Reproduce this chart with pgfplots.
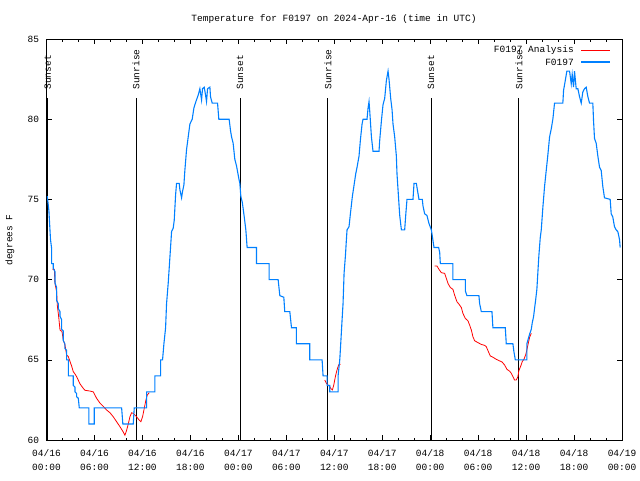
\documentclass[border=0pt]{standalone}
\usepackage{fontspec}
\setmainfont{Liberation Mono}
\usepackage{pgfplots}
\pgfplotsset{compat=1.18}
\definecolor{gblue}{RGB}{0,128,255}
\definecolor{gred}{RGB}{255,0,0}
\begin{document}
\fontsize{9.5}{11}\selectfont
\begin{tikzpicture}
\path[use as bounding box] (0pt,0pt) rectangle (640pt,480pt);
\begin{axis}[
  at={(46.5pt,40pt)}, anchor=south west,
  scale only axis, width=575.5pt, height=401pt,
  xmin=0, xmax=72, ymin=60, ymax=85,
  xtick={0,6,...,72},
  minor x tick num=2,
  xticklabels={{04/16\\00:00},{04/16\\06:00},{04/16\\12:00},{04/16\\18:00},{04/17\\00:00},{04/17\\06:00},{04/17\\12:00},{04/17\\18:00},{04/18\\00:00},{04/18\\06:00},{04/18\\12:00},{04/18\\18:00},{04/19\\00:00}},
  xticklabel style={align=center, font=\fontsize{9.5}{14}\selectfont, yshift=-6.5pt},
  ytick={60,65,...,85},
  yticklabel style={font=\fontsize{9.5}{11}\selectfont, xshift=-4pt},
  /pgf/number format/assume math mode=true,
  tick align=inside,
  major tick length=5pt, minor tick length=2.5pt,
  tick style={black, line width=0.6pt},
  axis line style={black, line width=0.8pt},
  clip=false,
]
% sunrise / sunset lines
\addplot[black, line width=0.8pt] coordinates {(0.15,60) (0.15,81.3)};
\addplot[black, line width=0.8pt] coordinates {(11.2,60) (11.2,81.3)};
\addplot[black, line width=0.8pt] coordinates {(24.2,60) (24.2,81.3)};
\addplot[black, line width=0.8pt] coordinates {(35.2,60) (35.2,81.3)};
\addplot[black, line width=0.8pt] coordinates {(48.1,60) (48.1,81.3)};
\addplot[black, line width=0.8pt] coordinates {(59.1,60) (59.1,81.3)};
\node[rotate=90, anchor=west, inner sep=0pt, xshift=1.5pt] at (axis cs:0.15,81.75) {Sunset};
\node[rotate=90, anchor=west, inner sep=0pt, xshift=1.5pt] at (axis cs:11.2,81.75) {Sunrise};
\node[rotate=90, anchor=west, inner sep=0pt, xshift=1.5pt] at (axis cs:24.2,81.75) {Sunset};
\node[rotate=90, anchor=west, inner sep=0pt, xshift=1.5pt] at (axis cs:35.2,81.75) {Sunrise};
\node[rotate=90, anchor=west, inner sep=0pt, xshift=1.5pt] at (axis cs:48.1,81.75) {Sunset};
\node[rotate=90, anchor=west, inner sep=0pt, xshift=1.5pt] at (axis cs:59.1,81.75) {Sunrise};
% legend (gnuplot style: text, then line sample)
\node[anchor=east, inner sep=0pt] at (axis description cs:0.9166,0.9726) {F0197 Analysis};
\draw[draw=gred, line width=0.8pt] (axis description cs:0.9288,0.9726) -- (axis description cs:0.9791,0.9726);
\node[anchor=east, inner sep=0pt] at (axis description cs:0.9166,0.9426) {F0197};
\draw[draw=gblue, line width=1.1pt] (axis description cs:0.9288,0.9426) -- (axis description cs:0.9791,0.9426);
% analysis (red)
\addplot[color=gred, line width=0.8pt] coordinates {
(0.73,70.64) (0.98,70.64) (1.06,69.76) (1.27,69.24) (1.35,68.4) (1.52,67.7) (1.69,66.86) (1.94,66.76) (2.1,66.24) (2.31,65.93) (2.52,65.3) (2.73,65.2) (2.94,64.9) (3.15,64.6) (3.35,64.26) (3.56,64.12) (3.77,63.95) (4.19,63.5) (4.6,63.22) (4.81,63.1) (5.44,63.05) (5.85,63.0) (6.27,62.6) (6.69,62.3) (7.1,62.1) (7.52,61.87) (7.94,61.7) (8.35,61.45) (8.77,61.14) (9.19,60.83) (9.6,60.5) (9.81,60.3) (10.02,60.6) (10.23,61.0) (10.44,61.45) (10.65,61.7) (10.85,61.66) (11.06,61.56) (11.27,61.45) (11.6,61.24) (11.81,61.14) (12.02,61.45) (12.19,61.87) (12.44,62.5) (12.6,62.8) (12.77,62.9) (12.85,62.95)
};
\addplot[color=gred, line width=0.8pt] coordinates {
(34.81,63.74) (35.02,63.53) (35.23,63.43) (35.44,63.33) (35.56,63.22) (35.77,63.12) (35.94,63.43) (36.06,63.74) (36.19,64.06) (36.35,64.37) (36.48,64.58) (36.6,64.72) (36.81,64.72)
};
\addplot[color=gred, line width=0.8pt] coordinates {
(48.56,70.85) (48.85,70.85) (49.1,70.64) (49.4,70.43) (49.81,70.39) (50.02,70.08) (50.23,69.76) (50.52,69.51) (50.85,69.39) (51.06,69.03) (51.35,68.62) (51.6,68.47) (51.9,68.26) (52.1,67.89) (52.4,67.58) (52.73,67.43) (52.94,67.16) (53.15,66.86) (53.35,66.44) (53.56,66.19) (53.98,66.07) (54.4,65.96) (54.81,65.9) (55.02,65.82) (55.23,65.57) (55.52,65.24) (55.85,65.16) (56.27,65.03) (56.69,64.93) (56.98,64.87) (57.31,64.68) (57.6,64.41) (57.94,64.29) (58.15,64.16) (58.35,63.95) (58.56,63.74) (58.77,63.74) (58.98,63.95) (59.1,64.33) (59.31,64.58) (59.52,64.89) (59.73,65.03) (59.94,65.3) (60.1,65.62) (60.23,65.93) (60.44,66.4) (60.65,66.65)
};
% observations (blue)
\addplot[color=gblue, line width=1.1pt] coordinates {
(0.1,75.2) (0.3,74.3) (0.5,72.5) (0.65,71.9) (0.65,71.0) (0.85,71.0) (0.85,70.7) (1.06,70.5) (1.06,69.8) (1.27,69.5) (1.27,68.7) (1.48,68.5) (1.48,68.2) (1.69,68.0) (1.69,67.7) (1.9,67.5) (1.9,66.9) (2.1,66.8) (2.1,66.2) (2.3,66.0) (2.3,65.7) (2.52,65.6) (2.52,65.0) (2.73,65.0) (2.73,64.0) (3.35,64.0) (3.35,63.4) (3.56,63.3) (3.56,63.0) (3.77,62.9) (3.77,62.7) (3.98,62.6) (4.1,62.0) (5.31,62.0) (5.31,61.0) (5.98,61.0) (5.98,62.0) (9.4,62.0) (9.55,61.0) (10.85,61.0) (10.98,62.0) (12.52,62.0) (12.52,63.0) (13.56,63.0) (13.56,64.0) (14.27,64.0) (14.27,65.0) (14.52,65.0) (14.69,66.0) (14.9,67.0) (15.02,68.5) (15.23,69.8) (15.44,71.4) (15.65,73.0) (15.85,73.2)
(15.98,73.7) (16.15,75.27) (16.27,76.0) (16.6,76.0) (16.69,75.6) (16.9,75.1) (17.02,75.5) (17.19,75.9) (17.31,76.8) (17.52,78.1) (17.73,78.9) (17.94,79.7) (18.23,80.0) (18.44,80.7) (18.69,81.1) (18.98,81.5) (19.19,81.9) (19.4,81.2) (19.52,81.9) (19.73,82.0) (19.9,81.5) (20.02,81.1) (20.15,81.9) (20.44,82.0) (20.52,81.4) (20.73,81.0) (21.4,81.0) (21.56,80.0) (22.85,80.0) (23.02,79.3) (23.15,78.9) (23.35,78.5) (23.56,77.5) (23.77,77.1) (24.1,76.2)
(24.19,76.0) (24.31,75.2) (24.5,74.8) (24.69,74.1) (24.94,73.1) (25.1,72.0) (26.27,72.0) (26.27,71.0) (27.85,71.0) (27.85,70.0) (28.98,70.0) (29.19,69.0) (29.69,68.9) (29.81,68.0) (30.44,68.0) (30.65,67.0) (31.27,67.0) (31.27,66.0) (32.94,66.0) (32.94,65.0) (34.48,65.0) (34.6,64.0) (35.1,64.0) (35.1,63.4) (35.44,63.4) (35.44,63.0) (36.48,63.0) (36.48,64.0) (36.69,65.0) (36.81,66.0) (36.98,67.5) (37.1,68.5) (37.23,70.4) (37.4,71.5) (37.52,72.5) (37.6,73.1)
(37.85,73.3) (38.02,74.1) (38.27,75.2) (38.48,75.9) (38.69,76.6) (38.85,77.0) (39.1,77.7) (39.27,78.7) (39.48,79.7) (39.6,80.0) (40.1,80.0) (40.23,80.7) (40.35,81.1) (40.44,80.5) (40.65,78.9) (40.85,78.0) (41.6,78.0) (41.69,78.7) (41.9,79.9) (42.1,80.9) (42.31,81.3) (42.52,82.4) (42.73,83.0) (42.85,82.5) (43.06,81.3) (43.23,80.6) (43.35,79.7) (43.56,78.9) (43.77,77.7) (43.85,76.6) (43.98,75.6) (44.19,74.0) (44.4,73.1) (44.81,73.1) (44.94,74.0) (45.1,75.0) (45.85,75.0) (45.98,76.0) (46.27,76.0) (46.4,75.6) (46.6,75.0) (47.02,75.0) (47.1,74.6) (47.31,74.1) (47.6,74.0) (47.85,73.5)
(48.15,73.1) (48.27,72.7) (48.48,72.0) (49.06,72.0) (49.19,71.7) (49.27,71.0) (50.85,71.0) (50.85,70.0) (52.4,70.0) (52.4,69.3) (52.6,69.0) (54.1,69.0) (54.19,68.5) (54.4,68.0) (55.73,68.0) (55.85,67.0) (57.4,67.0) (57.52,66.0) (58.35,66.0) (58.48,65.5) (58.65,65.0) (60.1,65.0) (60.1,66.0) (60.44,66.6) (60.65,66.9) (60.77,67.3) (60.94,67.7) (61.06,68.2) (61.19,68.7) (61.35,69.4) (61.48,70.5) (61.6,71.5) (61.77,72.6) (61.9,73.1)
(62.1,74.5) (62.31,75.8) (62.52,76.8) (62.73,77.8) (62.94,78.9) (63.15,79.4) (63.35,80.0) (63.56,81.0) (64.6,81.0) (64.69,81.8) (64.9,82.4) (65.1,83.0) (65.44,83.0) (65.65,82.2) (65.77,82.8) (65.94,82.0) (66.06,83.0) (66.27,81.9) (66.48,81.9) (66.69,81.4) (66.9,81.0) (67.1,81.7) (67.31,81.9) (67.52,82.0) (67.73,81.4) (67.94,81.0) (68.35,81.0) (68.44,79.9) (68.56,78.8) (68.77,78.5) (68.98,77.7) (69.19,77.0) (69.4,76.8) (69.6,75.8) (69.81,75.1) (70.52,75.0) (70.65,74.1) (70.85,73.9) (71.06,73.3) (71.27,73.1) (71.48,72.99) (71.69,72.5) (71.77,72.0)
};
\end{axis}
\node at (334pt,461pt) {Temperature for F0197 on 2024-Apr-16 (time in UTC)};
\node[rotate=90] at (10pt,240pt) {degrees F};
\end{tikzpicture}
\end{document}
